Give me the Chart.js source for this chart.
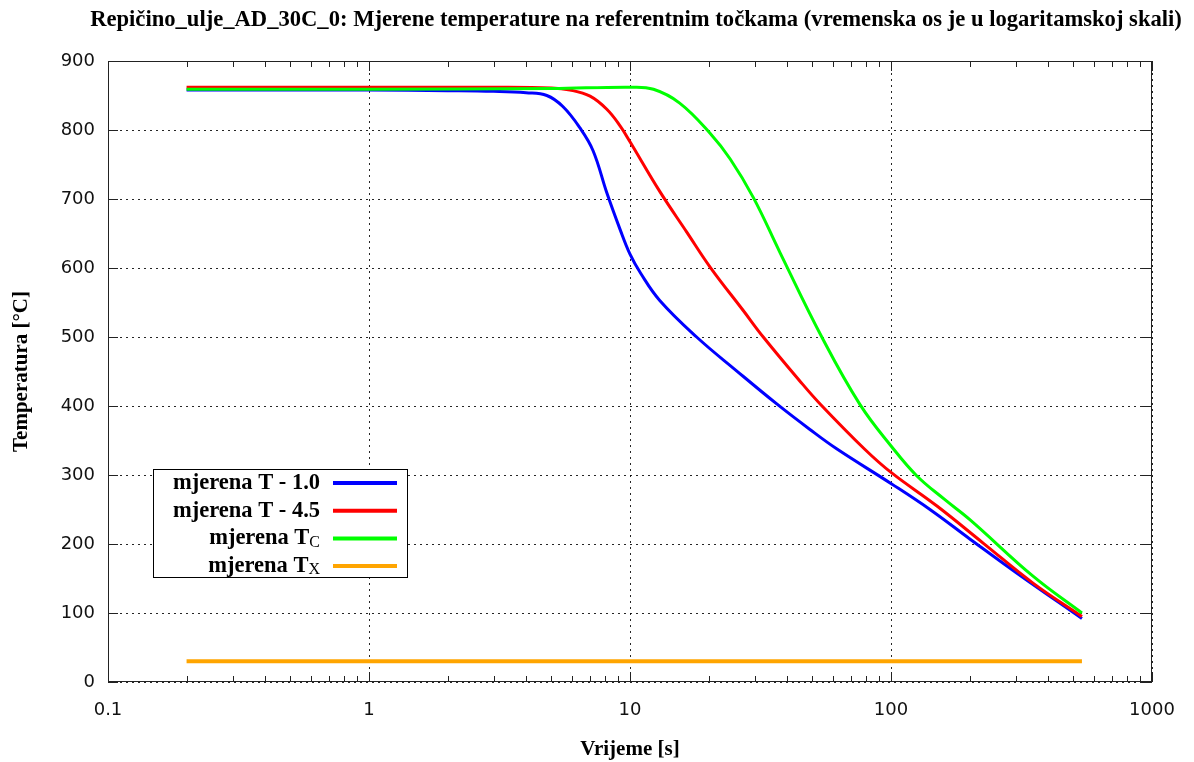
<!DOCTYPE html>
<html>
<head>
<meta charset="utf-8">
<script src="https://cdn.jsdelivr.net/npm/chart.js@4/dist/chart.umd.min.js"></script>
<style>
html, body { margin: 0; padding: 0; background: #fff; }
#wrap { width: 1194px; height: 762px; }
</style>
</head>
<body>
<div id="wrap"><canvas id="chart" width="1194" height="762"></canvas></div>
<script>
const titleText = 'Repičino_ulje_AD_30C_0: Mjerene temperature na referentnim točkama (vremenska os je u logaritamskoj skali)';
const xTitle = 'Vrijeme [s]';
const yTitle = 'Temperatura [°C]';

const xTicks = [0.1, 1, 10, 100, 1000];
const xTickLabels = ['0.1', '1', '10', '100', '1000'];

const seriesNames = ['mjerena T - 1.0', 'mjerena T - 4.5', 'mjerena T', 'mjerena T'];
const seriesSubs = ['', '', 'C', 'X'];
const seriesColors = ['#0000ff', '#ff0000', '#00ff00', '#ffa500'];

// [vrijeme s, temperatura °C]
const blueData = [[0.2,858],[1,858],[2,857],[3,856],[4,854],[4.8,850],[5.53,834],[6.43,803],[7.22,770],[8.15,709],[9.16,656],[10,620],[11,592],[13,553],[18,500],[25.6,451],[36.5,403],[48.9,366],[61.9,338],[100.6,287],[141,250],[201,207],[303,158],[539,92]];
const redData = [[0.2,862],[1,862],[3,862],[5,861],[5.89,858],[7.03,849],[8.15,830],[9.16,806],[10,783],[13,711],[16.5,652],[20.3,601],[27.2,538],[32.4,500],[44.8,436],[53.5,403],[79.5,337],[100.6,303],[150,255],[226,201],[351,143],[539,95]];
const greenData = [[0.2,859],[1,859],[5,860],[10,862],[12.3,859],[15.5,839],[20.3,795],[24.2,758],[29.7,702],[37.6,622],[54.3,500],[76.1,402],[100.6,341],[125.4,299],[160,265],[201,235],[351,153],[539,100]];
const orangeData = [[0.2,30],[539,30]];

const allData = [blueData, redData, greenData, orangeData];
const lineWidths = [3, 3, 3, 4];

const toXY = arr => arr.map(p => ({ x: p[0], y: p[1] }));

// naslov iznad grafa (centriran kao u originalu)
const topTitle = {
    id: 'topTitle',
    afterDraw(chart) {
        const ctx = chart.ctx;
        ctx.save();
        ctx.fillStyle = '#000';
        ctx.font = 'bold 22.6px "Liberation Serif"';
        ctx.textAlign = 'center';
        ctx.textBaseline = 'middle';
        ctx.fillText(titleText, 636, 20);
        ctx.restore();
    }
};

// okvir i unutarnje crtice kao u gnuplotu
const frameTicks = {
    id: 'frameTicks',
    beforeDatasetsDraw(chart) {
        const { ctx, chartArea: a, scales: { x, y } } = chart;
        ctx.save();
        ctx.strokeStyle = '#222';
        ctx.lineWidth = 1;
        ctx.strokeRect(a.left + 0.5, a.top + 0.5, a.right - a.left - 1, a.bottom - a.top - 1);
        ctx.beginPath();
        for (let d = 0; d < xTicks.length - 1; d++) {
            for (let k = 2; k <= 9; k++) {
                const px = Math.round(x.getPixelForValue(xTicks[d] * k)) + 0.5;
                ctx.moveTo(px, a.bottom); ctx.lineTo(px, a.bottom - 6);
                ctx.moveTo(px, a.top); ctx.lineTo(px, a.top + 6);
            }
        }
        xTicks.forEach(v => {
            const px = Math.round(x.getPixelForValue(v)) + 0.5;
            ctx.moveTo(px, a.bottom); ctx.lineTo(px, a.bottom - 10);
            ctx.moveTo(px, a.top); ctx.lineTo(px, a.top + 10);
        });
        y.ticks.forEach(t => {
            const py = Math.round(y.getPixelForValue(t.value)) + 0.5;
            ctx.moveTo(a.left, py); ctx.lineTo(a.left + 10, py);
            ctx.moveTo(a.right, py); ctx.lineTo(a.right - 10, py);
        });
        ctx.stroke();
        ctx.restore();
    }
};

const legendBox = {
    id: 'legendBox',
    afterDatasetsDraw(chart) {
        const { ctx, chartArea: a } = chart;
        const left = a.left + 45, top = a.top + 408, w = 254, h = 108;
        ctx.save();
        ctx.fillStyle = '#fff';
        ctx.fillRect(left, top, w, h);
        ctx.strokeStyle = '#000';
        ctx.lineWidth = 1;
        ctx.strokeRect(left + 0.5, top + 0.5, w, h);
        chart.data.datasets.forEach((ds, i) => {
            const yy = top + 14 + i * 27.7;
            let right = left + 167;
            ctx.fillStyle = '#000';
            ctx.textBaseline = 'middle';
            ctx.textAlign = 'right';
            if (seriesSubs[i]) {
                ctx.font = '16px "Liberation Serif"';
                ctx.fillText(seriesSubs[i], right, yy + 4);
                right -= ctx.measureText(seriesSubs[i]).width;
            }
            ctx.font = 'bold 22.5px "Liberation Serif"';
            ctx.fillText(seriesNames[i], right, yy);
            ctx.strokeStyle = ds.borderColor;
            ctx.lineWidth = 4;
            ctx.beginPath();
            ctx.moveTo(left + 180, yy);
            ctx.lineTo(left + 244, yy);
            ctx.stroke();
        });
        ctx.restore();
    }
};

new Chart(document.getElementById('chart'), {
    type: 'line',
    data: {
        datasets: allData.map((d, i) => ({
            label: seriesNames[i] + seriesSubs[i],
            data: toXY(d),
            borderColor: seriesColors[i],
            backgroundColor: seriesColors[i],
            borderWidth: lineWidths[i],
            pointRadius: 0,
            tension: 0.4,
            fill: false,
            order: 3 - i
        }))
    },
    options: {
        responsive: false,
        animation: false,
        layout: { padding: { left: 0, right: 42, top: 61, bottom: 0 } },
        plugins: {
            legend: { display: false },
            tooltip: { enabled: false },
            title: { display: false }
        },
        scales: {
            x: {
                type: 'logarithmic',
                min: 0.1,
                max: 1000,
                afterBuildTicks: scale => { scale.ticks = xTicks.map(v => ({ value: v })); },
                afterFit: scale => { scale.height = 80; },
                ticks: {
                    autoSkip: false,
                    maxRotation: 0,
                    padding: 18,
                    color: '#111',
                    font: { family: '"DejaVu Sans"', size: 18 },
                    callback: v => {
                        const i = xTicks.findIndex(t => Math.abs(t - v) < 1e-9);
                        return i >= 0 ? xTickLabels[i] : '';
                    }
                },
                grid: { drawTicks: false, color: 'rgba(0,0,0,0.85)', lineWidth: 1 },
                border: { display: false, dash: [2, 4] },
                title: {
                    display: true,
                    text: xTitle,
                    color: '#000',
                    font: { family: '"Liberation Serif"', size: 21, weight: 'bold', lineHeight: 1.2 },
                    padding: { top: 0, bottom: 0 }
                }
            },
            y: {
                min: 0,
                max: 900,
                afterFit: scale => { scale.width = 108; },
                ticks: {
                    stepSize: 100,
                    padding: 13,
                    color: '#111',
                    font: { family: '"DejaVu Sans"', size: 18 }
                },
                grid: { drawTicks: false, color: 'rgba(0,0,0,0.85)', lineWidth: 1 },
                border: { display: false, dash: [2, 4] },
                title: {
                    display: true,
                    text: yTitle,
                    color: '#000',
                    font: { family: '"Liberation Serif"', size: 21, weight: 'bold', lineHeight: 1.2 },
                    padding: { top: 9, bottom: 0 }
                }
            }
        }
    },
    plugins: [frameTicks, legendBox, topTitle]
});
</script>
</body>
</html>
